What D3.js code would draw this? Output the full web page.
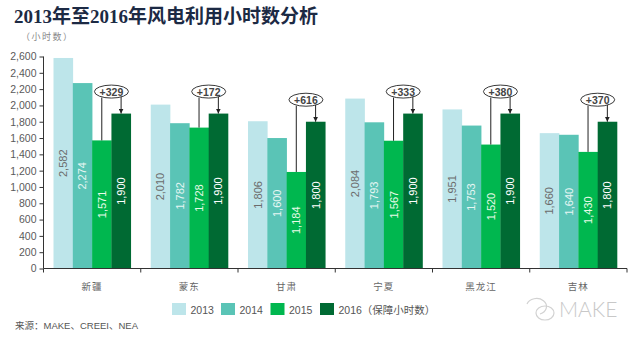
<!DOCTYPE html>
<html><head><meta charset="utf-8">
<script src="https://cdn.jsdelivr.net/npm/d3@7"></script>
<style>body{margin:0;background:#fff}svg{display:block}</style>
</head><body>
<svg id="c" width="640" height="341"></svg>
<script>
const categories = ["新疆","蒙东","甘肃","宁夏","黑龙江","吉林"];
const series = ["2013","2014","2015","2016"];
const v2013 = [2582,2010,1806,2084,1951,1660];
const v2014 = [2274,1782,1600,1793,1753,1640];
const v2015 = [1571,1728,1184,1567,1520,1430];
const v2016 = [1900,1900,1800,1900,1900,1800];
const diffs = ["+329","+172","+616","+333","+380","+370"];
const yTicks = [0,200,400,600,800,1000,1200,1400,1600,1800,2000,2200,2400,2600];
const legendLabels = ["2013","2014","2015","2016（保障小时数）"];

const values = [v2013,v2014,v2015,v2016];
const colors = ["#bde5ea","#5ac4b6","#00b74f","#006a33"];
const labelColors = ["#6b6b6b","#e6f6f3","#e8fbe8","#ffffff"];
const fmt = d3.format(",");
const svg = d3.select("#c");
const FONT = "'Liberation Sans', Arial, 'Noto Sans CJK SC', sans-serif";

const x0 = d3.scaleBand().domain(categories).range([43.5, 627]).padding(0);
const x1 = d3.scaleBand().domain(series).range([10, x0.bandwidth()-10]).padding(0);
const y = d3.scaleLinear().domain([0,2600]).range([268.5, 56.5]);

// title
svg.append("text").attr("x",14).attr("y",23)
  .attr("font-family","'Liberation Serif','DejaVu Serif','Noto Sans CJK SC',serif")
  .attr("font-size",19).attr("font-weight","bold").attr("fill","#1c2a44")
  .text("2013年至2016年风电利用小时数分析");
svg.append("text").attr("x",21).attr("y",40)
  .attr("font-family","'Noto Sans CJK SC',sans-serif").attr("font-size",9).attr("letter-spacing",1.5).attr("fill","#888")
  .text("（小时数）");

// bars
const g = svg.append("g");
categories.forEach((c,ci)=>{
  series.forEach((s,si)=>{
    const val = values[si][ci];
    const bx = x0(c)+x1(s);
    g.append("rect").attr("x",bx).attr("y",y(val)).attr("width",x1.bandwidth()+0.3)
      .attr("height",y(0)-y(val)).attr("fill",colors[si]);
    const cx = bx + x1.bandwidth()/2, cy = (y(val)+y(0))/2;
    g.append("text").attr("transform",`translate(${cx+4},${cy}) rotate(-90)`)
      .attr("text-anchor","middle").attr("font-family",FONT).attr("font-size",11)
      .attr("fill",labelColors[si]).text(fmt(val));
  });
});

// axes
const yAxis = d3.axisLeft(y).tickValues(yTicks).tickSize(4).tickPadding(3).tickFormat(fmt);
const ya = svg.append("g").attr("transform","translate(43.5,0)").call(yAxis);
ya.select(".domain").attr("stroke","#333").attr("d","M0,56.5V268.5");
ya.selectAll(".tick line").attr("stroke","#333");
ya.selectAll(".tick text").attr("font-family",FONT).attr("font-size",10.5).attr("fill","#5a5a5a");

const xa = svg.append("g").attr("transform","translate(0,268.5)");
xa.append("line").attr("x1",43.5).attr("x2",627).attr("stroke","#333");
const edges = categories.map(c=>x0(c)).concat([x0.range()[1]]);
edges.forEach(e=>xa.append("line").attr("x1",e).attr("x2",e).attr("y1",0).attr("y2",4).attr("stroke","#333"));
categories.forEach(c=>{
  xa.append("text").attr("x",x0(c)+x0.bandwidth()/2).attr("y",21).attr("text-anchor","middle")
    .attr("font-family","'Noto Sans CJK SC',sans-serif").attr("font-size",9.5).attr("letter-spacing",1).attr("fill","#666").text(c);
});

// annotations
const defs = svg.append("defs");
defs.append("marker").attr("id","arr").attr("viewBox","0 0 10 10").attr("refX",10).attr("refY",5)
  .attr("markerWidth",5).attr("markerHeight",5).attr("orient","auto")
  .append("path").attr("d","M0,0L10,5L0,10z").attr("fill","#222");
const an = svg.append("g");
categories.forEach((c,ci)=>{
  const x15 = x0(c)+x1("2015")+x1.bandwidth()/2;
  const x16 = x0(c)+x1("2016")+x1.bandwidth()/2;
  const ex = x0(c)+x1("2016");
  const ey = y(v2016[ci]) - 22;
  an.append("line").attr("x1",x15).attr("x2",x15).attr("y1",y(v2015[ci])).attr("y2",ey+6)
    .attr("stroke","#222").attr("stroke-width",1);
  an.append("line").attr("x1",x16).attr("x2",x16).attr("y1",ey+5).attr("y2",y(v2016[ci]))
    .attr("stroke","#222").attr("stroke-width",1).attr("marker-end","url(#arr)");
  an.append("ellipse").attr("cx",ex).attr("cy",ey).attr("rx",17).attr("ry",6.5)
    .attr("fill","#fff").attr("stroke","#222").attr("stroke-width",0.9);
  an.append("text").attr("x",ex).attr("y",ey+4).attr("text-anchor","middle")
    .attr("font-family",FONT).attr("font-size",10.5).attr("font-weight","bold").attr("fill","#444")
    .text(diffs[ci]);
});

// legend
const lx = [172,221,270.5,320];
legendLabels.forEach((t,i)=>{
  svg.append("rect").attr("x",lx[i]).attr("y",303).attr("width",14).attr("height",12).attr("fill",colors[i]);
  svg.append("text").attr("x",lx[i]+18.5).attr("y",313.5)
    .attr("font-family",FONT+",'Noto Sans CJK SC'").attr("font-size",10.5).attr("fill","#555").text(t);
});

// source
svg.append("text").attr("x",15).attr("y",329)
  .attr("font-family",FONT).attr("font-size",9.5).attr("fill","#555").text("来源：MAKE、CREEI、NEA");

// watermark
const wm = svg.append("g").attr("stroke","#d2d2d2").attr("fill","none").attr("stroke-width",1.2);
wm.append("path").attr("d","M527,304 A10,8 0 1 1 540,314");
wm.append("ellipse").attr("cx",545).attr("cy",313).attr("rx",9).attr("ry",7);
svg.append("text").attr("x",559).attr("y",317).attr("font-family","Lato, 'Open Sans', sans-serif")
  .attr("font-weight",300).attr("font-size",21).attr("fill","#c8c8c8").text("MAKE");
</script>
</body></html>
